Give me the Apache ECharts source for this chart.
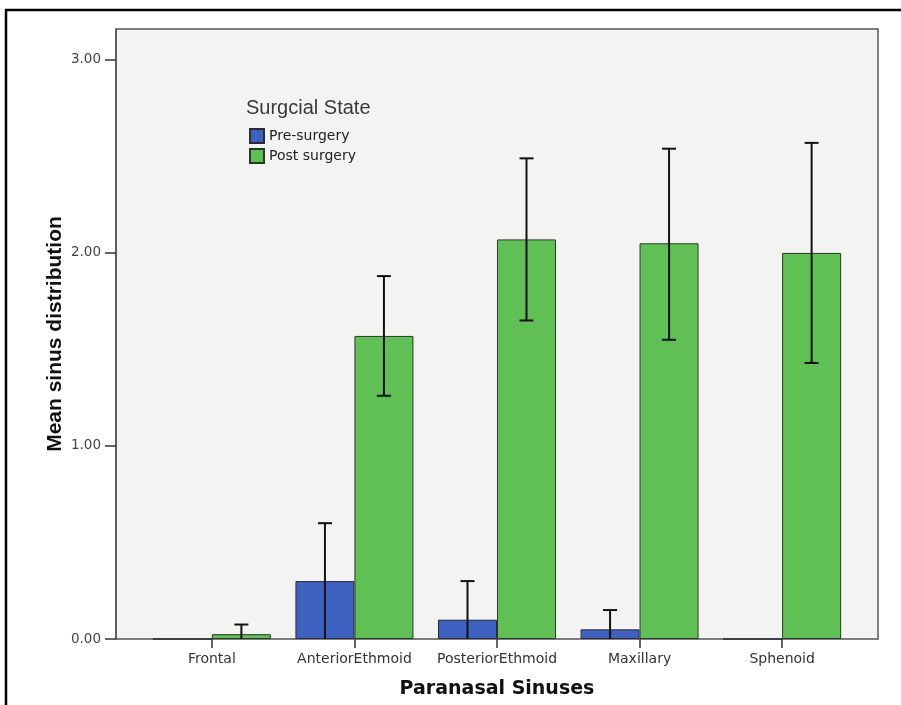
<!DOCTYPE html>
<html>
<head>
<meta charset="utf-8">
<style>
html,body{margin:0;padding:0;background:#fff;}
#chart{width:901px;height:705px;}
</style>
<script src="https://cdn.jsdelivr.net/npm/echarts@6/dist/echarts.min.js"></script>
</head>
<body>
<div id="chart"></div>
<script>
var categories = ['Frontal', 'AnteriorEthmoid', 'PosteriorEthmoid', 'Maxillary', 'Sphenoid'];
var preSurgery = [0, 0.30, 0.10, 0.05, 0];
var postSurgery = [0.025, 1.57, 2.07, 2.05, 2.00];
var preLow = [null, 0, 0, 0, null];
var preHigh = [null, 0.60, 0.30, 0.15, null];
var postLow = [0, 1.26, 1.65, 1.55, 1.43];
var postHigh = [0.075, 1.88, 2.49, 2.54, 2.57];
var yTicks = [0, 1, 2, 3];
var yMax = 3.16;

var BAR_W = 59;

function errData(low, high) {
  var out = [];
  for (var i = 0; i < categories.length; i++) {
    if (low[i] === null) continue;
    out.push([i, low[i], high[i]]);
  }
  return out;
}

function errRender(sign) {
  return function (params, api) {
    var i = api.value(0);
    var lo = api.coord([i, api.value(1)]);
    var hi = api.coord([i, api.value(2)]);
    var x = lo[0] + sign * BAR_W / 2;
    var cap = 7;
    var st = { stroke: '#111', lineWidth: 2 };
    var children = [
      { type: 'line', shape: { x1: x, y1: lo[1], x2: x, y2: hi[1] }, style: st },
      { type: 'line', shape: { x1: x - cap, y1: hi[1], x2: x + cap, y2: hi[1] }, style: st }
    ];
    if (api.value(1) > 0) {
      children.push({ type: 'line', shape: { x1: x - cap, y1: lo[1], x2: x + cap, y2: lo[1] }, style: st });
    }
    return { type: 'group', children: children };
  };
}

var chart = echarts.init(document.getElementById('chart'), null, { renderer: 'canvas' });
chart.setOption({
  animation: false,
  backgroundColor: '#ffffff',
  title: {
    text: 'Surgcial State',
    left: 241, top: 93,
    textStyle: { fontFamily: 'Liberation Sans', fontSize: 20, fontWeight: 'normal', color: '#3a3a3a' }
  },
  legend: {
    orient: 'vertical',
    left: 244, top: 123,
    itemWidth: 14, itemHeight: 14, itemGap: 4,
    icon: 'rect',
    textStyle: { fontFamily: 'DejaVu Sans', fontSize: 14, color: '#222' },
    data: ['Pre-surgery', 'Post surgery']
  },
  grid: [
    { left: 116, right: 23, top: 29, bottom: 66, show: true, backgroundColor: '#f3f3f1', borderColor: '#555', borderWidth: 1.5 },
    { left: 140.6, right: 47.6, top: 29, bottom: 66 }
  ],
  xAxis: [
    { type: 'value', gridIndex: 0, show: false, min: 0, max: 1 },
    {
      type: 'category', gridIndex: 1, data: categories,
      axisLine: { show: false },
      axisTick: { show: true, alignWithLabel: true, length: 9, lineStyle: { color: '#333', width: 1.5 } },
      axisLabel: { interval: 0, fontFamily: 'DejaVu Sans', fontSize: 14, color: '#333', margin: 13 },
      name: 'Paranasal Sinuses', nameLocation: 'middle', nameGap: 41,
      nameTextStyle: { fontFamily: 'DejaVu Sans', fontWeight: 'bold', fontSize: 19, color: '#111' }
    }
  ],
  yAxis: [
    {
      type: 'value', gridIndex: 0, min: 0, max: yMax, interval: 1,
      splitLine: { show: false },
      axisLine: { show: true, lineStyle: { color: '#555', width: 1.5 } },
      axisTick: { show: true, length: 11, customValues: yTicks, lineStyle: { color: '#333', width: 1.5 } },
      axisLabel: { customValues: yTicks, fontFamily: 'DejaVu Sans', fontSize: 13.5, color: '#444', margin: 15,
        formatter: function (v) { return v.toFixed(2); } },
      name: 'Mean sinus distribution', nameLocation: 'middle', nameGap: 50, nameRotate: 90,
      nameMoveOverlap: false,
      nameTextStyle: { fontFamily: 'Liberation Sans', fontWeight: 'bold', fontSize: 21, color: '#111' }
    },
    { type: 'value', gridIndex: 1, min: 0, max: yMax, show: false, splitLine: { show: false } }
  ],
  series: [
    {
      name: 'Pre-surgery', type: 'bar', xAxisIndex: 1, yAxisIndex: 1, data: preSurgery,
      barWidth: BAR_W, barGap: '0%',
      itemStyle: { color: '#3e60be', borderColor: '#2a2a3a', borderWidth: 1 }
    },
    {
      name: 'Post surgery', type: 'bar', xAxisIndex: 1, yAxisIndex: 1, data: postSurgery,
      barWidth: BAR_W, barGap: '0%',
      itemStyle: { color: '#60bf55', borderColor: '#2a3a2a', borderWidth: 1 }
    },
    {
      type: 'custom', xAxisIndex: 1, yAxisIndex: 1, data: errData(preLow, preHigh),
      renderItem: errRender(-1), z: 10, silent: true
    },
    {
      type: 'custom', xAxisIndex: 1, yAxisIndex: 1, data: errData(postLow, postHigh),
      renderItem: errRender(1), z: 10, silent: true
    }
  ],
  graphic: [
    { type: 'line', shape: { x1: 5, y1: 10, x2: 901, y2: 10 }, style: { stroke: '#000', lineWidth: 2.5 }, z: 100 },
    { type: 'line', shape: { x1: 6, y1: 9, x2: 6, y2: 705 }, style: { stroke: '#000', lineWidth: 2.5 }, z: 100 }
  ]
});
</script>
</body>
</html>
